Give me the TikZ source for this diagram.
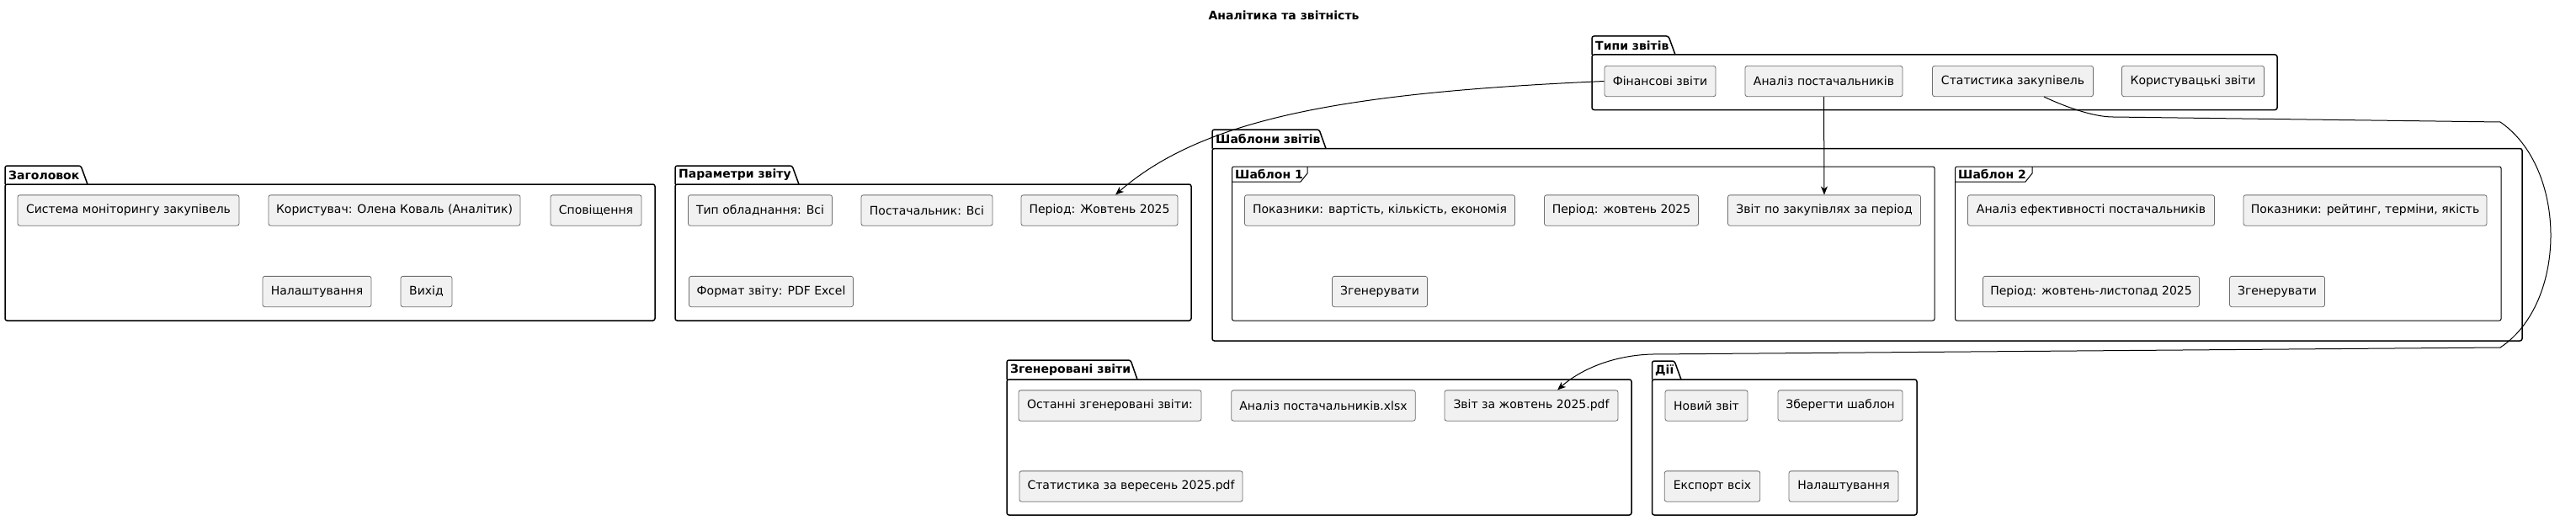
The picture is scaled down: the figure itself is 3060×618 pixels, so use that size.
\documentclass[tikz,border=0pt]{standalone}
\usepackage{fontspec}
\setmainfont{DejaVu Sans}
\usetikzlibrary{arrows.meta}

\begin{document}
\begin{tikzpicture}[x=1pt,y=-1pt,
  item/.style={draw=itemline,fill=itemfill,line width=0.8pt,rounded corners=2.5pt,
    minimum height=36.3pt,inner xsep=4pt,font=\fontsize{14}{17}\selectfont},
  pkg/.style={line width=1.5pt,rounded corners=2.5pt},
  frm/.style={line width=1pt,rounded corners=2pt},
  pkgname/.style={anchor=west,inner sep=0pt,font=\bfseries\fontsize{14}{17}\selectfont},
  link/.style={line width=1pt,-{Stealth[length=10pt,width=8pt,inset=3pt]}}]
% Define colours
\definecolor{itemfill}{RGB}{241,241,241}
\definecolor{itemline}{RGB}{110,110,110}

\useasboundingbox (0,0) rectangle (3060,618);

% Title
\node[font=\bfseries\fontsize{14}{17}\selectfont] (title) at (1525,18) {Аналітика та звітність};

% Package: Заголовок
\draw[pkg] (6,219) rectangle (778,381);
\draw[pkg] (6,219) -- (6,197) -- (96,197) -- (104,219);
\node[pkgname] (headL) at (10,208) {Заголовок};
\node[item,minimum width=263pt] (sys) at (152.5,250) {Система моніторингу закупівель};
\node[item,minimum width=299pt] (user) at (468.5,250) {Користувач: Олена Коваль (Аналітик)};
\node[item,minimum width=108pt] (notif) at (708,250) {Сповіщення};
\node[item,minimum width=129pt] (hsett) at (376.5,346.5) {Налаштування};
\node[item,minimum width=61pt] (logout) at (506.5,346.5) {Вихід};

% Package: Параметри звіту
\draw[pkg] (802,219) rectangle (1415,381);
\draw[pkg] (802,219) -- (802,197) -- (941,197) -- (949,219);
\node[pkgname] (parL) at (806,208) {Параметри звіту};
\node[item,minimum width=171pt] (ptype) at (903,250) {Тип обладнання: Всі};
\node[item,minimum width=156pt] (psupp) at (1101,250) {Постачальник: Всі};
\node[item,minimum width=186pt] (pper) at (1306,250) {Період: Жовтень 2025};
\node[item,minimum width=195pt] (pfmt) at (916,346.5) {Формат звіту: PDF Excel};

% Package: Типи звітів
\draw[pkg] (1891,65) rectangle (2705,130.5);
\draw[pkg] (1891,65) -- (1891,43) -- (1982,43) -- (1990,65);
\node[pkgname] (typL) at (1895,54) {Типи звітів};
\node[item,minimum width=132pt] (tfin) at (1972,96.5) {Фінансові звіти};
\node[item,minimum width=187pt] (tsupp) at (2166.5,96.5) {Аналіз постачальників};
\node[item,minimum width=191pt] (tstat) at (2391,96.5) {Статистика закупівель};
\node[item,minimum width=169pt] (tuser) at (2605,96.5) {Користувацькі звіти};

% Package: Шаблони звітів
\draw[pkg] (1440,176.5) rectangle (2996,405);
\draw[pkg] (1440,176.5) -- (1440,154) -- (1567,154) -- (1575,176.5);
\node[pkgname] (tplL) at (1444,165) {Шаблони звітів};

% Frame: Шаблон 1
\draw[frm] (1463.6,198) rectangle (2298,381);
\draw[frm,rounded corners=0pt] (1463.6,216) -- (1545,216) -- (1553,206) -- (1553,198);
\node[pkgname] (t1L) at (1467,207) {Шаблон 1};
\node[item,minimum width=321pt] (s1met) at (1639,250) {Показники: вартість, кількість, економія};
\node[item,minimum width=183pt] (s1per) at (1926,250) {Період: жовтень 2025};
\node[item,minimum width=229pt] (s1rep) at (2167,250) {Звіт по закупівлях за період};
\node[item,minimum width=113pt] (s1gen) at (1639,346.5) {Згенерувати};

% Frame: Шаблон 2
\draw[frm] (2322.6,198) rectangle (2971,381);
\draw[frm,rounded corners=0pt] (2322.6,216) -- (2406,216) -- (2414,206) -- (2414,198);
\node[pkgname] (t2L) at (2326,207) {Шаблон 2};
\node[item,minimum width=293pt] (s2eff) at (2484,250) {Аналіз ефективності постачальників};
\node[item,minimum width=289pt] (s2met) at (2809.5,250) {Показники: рейтинг, терміни, якість};
\node[item,minimum width=257pt] (s2per) at (2484,346.5) {Період: жовтень-листопад 2025};
\node[item,minimum width=113pt] (s2gen) at (2705,346.5) {Згенерувати};

% Package: Згенеровані звіти
\draw[pkg] (1196,451) rectangle (1938,612);
\draw[pkg] (1196,451) -- (1196,428) -- (1343,428) -- (1351,451);
\node[pkgname] (genL) at (1200,440) {Згенеровані звіти};
\node[item,minimum width=217pt] (glast) at (1318.5,482) {Останні згенеровані звіти:};
\node[item,minimum width=218.5pt] (gxlsx) at (1572,482) {Аналіз постачальників.xlsx};
\node[item,minimum width=206pt] (goct) at (1819,482) {Звіт за жовтень 2025.pdf};
\node[item,minimum width=265pt] (gsep) at (1343.5,578) {Статистика за вересень 2025.pdf};

% Package: Дії
\draw[pkg] (1962.5,451) rectangle (2277,612);
\draw[pkg] (1962.5,451) -- (1962.5,429) -- (1989,429) -- (1997,451);
\node[pkgname] (actL) at (1966,440) {Дії};
\node[item,minimum width=98pt] (anew) at (2027,482) {Новий звіт};
\node[item,minimum width=148pt] (asave) at (2186,482) {Зберегти шаблон};
\node[item,minimum width=113.5pt] (aexp) at (2034,578) {Експорт всіх};
\node[item,minimum width=130pt] (asett) at (2190,578) {Налаштування};

% Connectors
\draw[link] (tfin.west) .. controls (1600,110) and (1430,140) .. ([xshift=19pt]pper.north);
\draw[link] (tsupp.south) -- (s1rep.north);
\draw[link] ([xshift=37pt]tstat.south) .. controls (2460,130) and (2490,139) .. (2510,139)
  -- (2970,145) .. controls (3050,200) and (3050,360) .. (2970,413)
  -- (1963,421) .. controls (1920,422) and (1880,437) .. ([xshift=31pt]goct.north);
\end{tikzpicture}
\end{document}
